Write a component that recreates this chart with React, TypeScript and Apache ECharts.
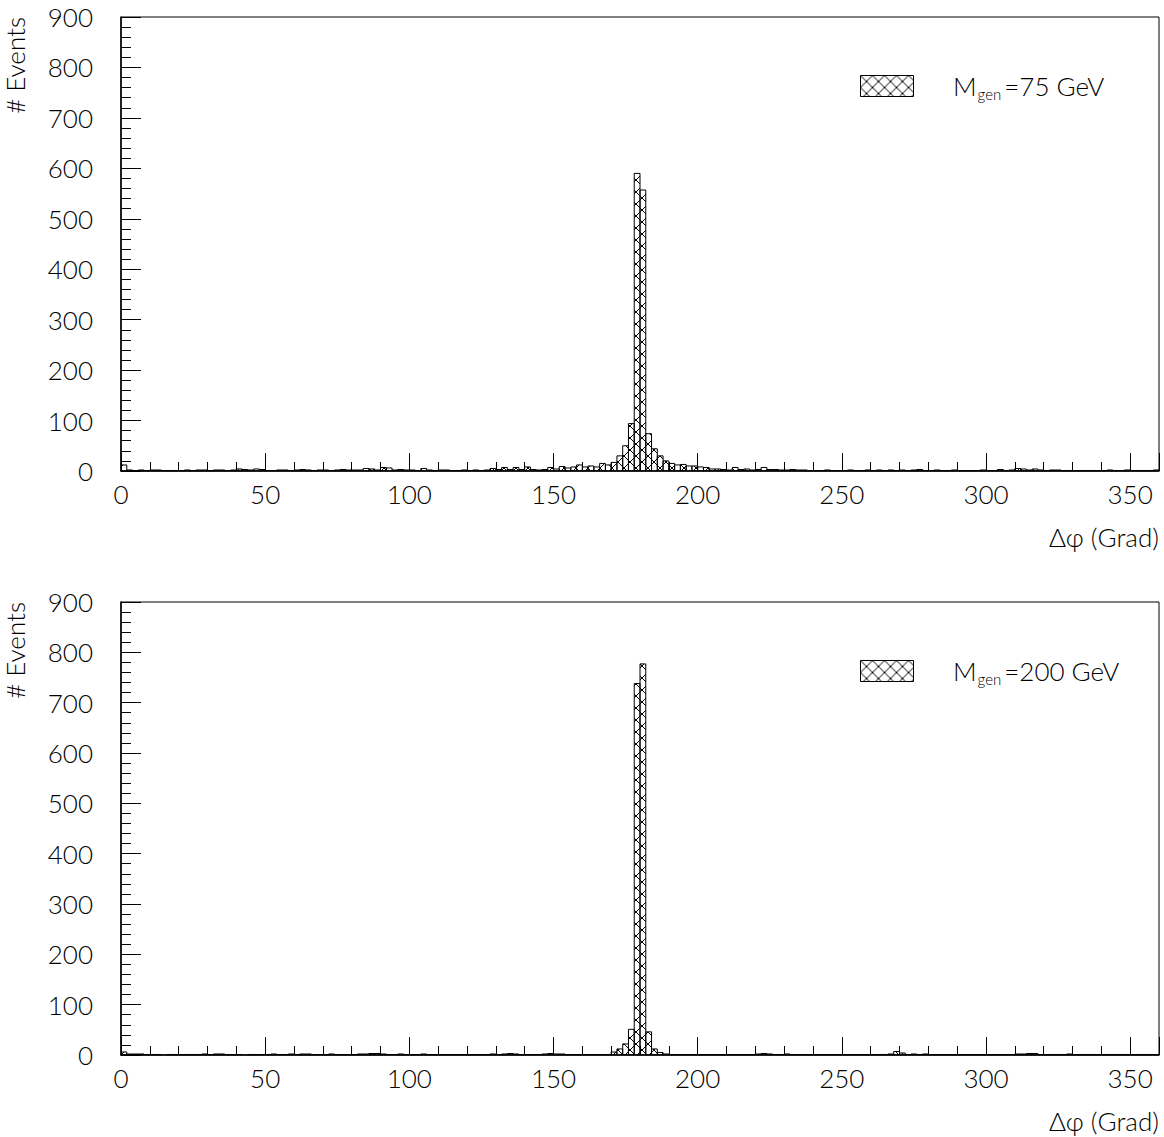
import React, { useEffect, useRef } from "react";
import * as echarts from "echarts";

// Bin width 2 degrees, 180 bins from 0 to 360
const BIN_WIDTH = 2;
const Y_TICKS_MAX = 900;

// M_gen = 75 GeV, counts per 2-degree bin
const COUNTS_75 = [
  12, 2, 1, 2, 1, 2, 2, 1, 1, 1, 1, 2, 1, 2, 2, 1, 2, 2, 1, 2,
  4, 3, 2, 4, 3, 1, 1, 2, 2, 1, 2, 3, 2, 1, 2, 2, 1, 2, 3, 2,
  2, 2, 5, 4, 2, 7, 6, 2, 3, 2, 2, 1, 5, 2, 1, 2, 2, 1, 1, 2,
  1, 2, 1, 2, 5, 3, 7, 3, 7, 3, 8, 3, 2, 3, 7, 4, 9, 6, 8, 12,
  8, 10, 8, 15, 12, 17, 30, 50, 94, 590, 557, 74, 44, 30, 20, 15, 12, 13, 10, 10,
  8, 7, 4, 4, 3, 2, 7, 3, 4, 2, 3, 7, 3, 3, 2, 2, 3, 2, 2, 1,
  1, 1, 2, 1, 1, 1, 2, 1, 1, 2, 1, 2, 1, 2, 1, 2, 1, 2, 3, 1,
  1, 2, 1, 1, 2, 1, 1, 1, 1, 2, 1, 1, 3, 1, 2, 5, 4, 2, 4, 2,
  1, 2, 2, 1, 1, 1, 1, 1, 1, 1, 1, 2, 1, 1, 2, 1, 1, 1, 1, 2,
];

// M_gen = 200 GeV, counts per 2-degree bin
const COUNTS_200 = [
  6, 2, 2, 2, 1, 1, 1, 0, 1, 1, 1, 1, 1, 1, 2, 1, 2, 2, 1, 1,
  1, 0, 1, 1, 1, 1, 2, 1, 1, 2, 1, 2, 2, 1, 1, 1, 2, 1, 1, 1,
  1, 2, 2, 3, 3, 2, 1, 1, 2, 1, 1, 1, 2, 1, 1, 1, 1, 1, 1, 1,
  1, 1, 1, 1, 2, 1, 2, 3, 2, 1, 1, 1, 1, 2, 3, 2, 2, 1, 1, 1,
  1, 1, 1, 1, 1, 6, 12, 22, 51, 738, 777, 46, 12, 5, 2, 1, 1, 1, 1, 1,
  1, 1, 1, 1, 1, 1, 1, 1, 1, 1, 2, 3, 2, 1, 1, 2, 1, 1, 1, 1,
  1, 1, 1, 1, 1, 1, 1, 1, 1, 1, 1, 1, 1, 2, 7, 4, 1, 2, 1, 2,
  1, 1, 1, 1, 1, 1, 1, 1, 1, 1, 1, 1, 1, 1, 1, 2, 2, 3, 3, 1,
  1, 1, 1, 1, 2, 1, 1, 1, 1, 1, 1, 1, 1, 1, 1, 1, 1, 1, 1, 1,
];

const LABEL_75 = ["M", "gen", "=75 GeV"];
const LABEL_200 = ["M", "gen", "=200 GeV"];
const X_TITLE = "\u0394\u03C6 (Grad)";
const Y_TITLE = "# Events";

const FONT = "Lato, 'Liberation Sans', sans-serif";
const WEIGHT = 300;
const TXT = "#000";

const hatchSvg =
  "<svg xmlns='http://www.w3.org/2000/svg' width='12' height='12'>" +
  "<path d='M0 0L12 12M12 0L0 12' stroke='black' stroke-width='1' fill='none'/></svg>";
const hatchUrl = "data:image/svg+xml;charset=utf-8," + encodeURIComponent(hatchSvg);

function toBins(counts: number[]) {
  return counts.map((c, i) => [i * BIN_WIDTH, (i + 1) * BIN_WIDTH, c]);
}

export default function App() {
  const ref = useRef<HTMLDivElement>(null);
  useEffect(() => {
    if (!ref.current) return;
    const chart = echarts.init(ref.current, null, { renderer: "svg" });
    const pattern: any = { image: hatchUrl, repeat: "repeat", imageWidth: 12, imageHeight: 12 };

    const grids = [
      { left: 121, top: 17, width: 1038, height: 454 },
      { left: 121, top: 602, width: 1038, height: 453 },
    ];

    const xAxis = grids.map((_, gi) => ({
      type: "value",
      gridIndex: gi,
      min: 0,
      max: 360,
      interval: 50,
      axisLine: { show: true, onZero: false, lineStyle: { color: "#000", width: 1.5 } },
      axisTick: { show: true, inside: true, length: 18, lineStyle: { color: "#000" } },
      minorTick: { show: true, splitNumber: 5, length: 9, lineStyle: { color: "#000" } },
      splitLine: { show: false },
      axisLabel: {
        margin: 10,
        fontSize: 26,
        fontFamily: FONT,
        fontWeight: WEIGHT,
        color: TXT,
        formatter: (v: number) => (v === 360 ? "" : String(v)),
      },
    }));

    const yAxis = grids.map((_, gi) => ({
      type: "value",
      gridIndex: gi,
      min: 0,
      max: Y_TICKS_MAX,
      interval: 100,
      axisLine: { show: true, lineStyle: { color: "#000", width: 1.5 } },
      axisTick: { show: true, inside: true, length: 20, lineStyle: { color: "#000" } },
      minorTick: { show: true, splitNumber: 5, length: 10, lineStyle: { color: "#000" } },
      splitLine: { show: false },
      axisLabel: {
        margin: 28,
        fontSize: 26,
        fontFamily: FONT,
        fontWeight: WEIGHT,
        color: TXT,
      },
    }));

    const renderItem = (params: any, api: any) => {
      const x0 = api.value(0);
      const x1 = api.value(1);
      const y = api.value(2);
      if (!(y > 0)) return null;
      const p0 = api.coord([x0, y]);
      const p1 = api.coord([x1, 0]);
      return {
        type: "rect",
        shape: { x: p0[0], y: p0[1], width: p1[0] - p0[0], height: p1[1] - p0[1] },
        style: { fill: pattern, stroke: "#000", lineWidth: 1 },
      };
    };

    const series = [COUNTS_75, COUNTS_200].map((counts, gi) => ({
      type: "custom",
      xAxisIndex: gi,
      yAxisIndex: gi,
      renderItem,
      encode: { x: [0, 1], y: 2 },
      data: toBins(counts),
      clip: true,
    }));

    const legendItem = (labels: string[], boxY: number) => [
      {
        type: "rect",
        left: 860,
        top: boxY,
        shape: { width: 53, height: 21 },
        style: { fill: pattern, stroke: "#000", lineWidth: 1 },
      },
      {
        type: "text",
        x: 953,
        y: boxY + 11,
        style: {
          text: `{m|${labels[0]}}{s|${labels[1]}}{m|${labels[2]}}`,
          verticalAlign: "middle",
          fontFamily: FONT,
          fill: TXT,
          rich: {
            m: { fontSize: 26, fontFamily: FONT, fontWeight: WEIGHT, fill: TXT, lineHeight: 30, verticalAlign: "middle" },
            s: { fontSize: 15, fontFamily: FONT, fontWeight: WEIGHT, fill: TXT, lineHeight: 30, verticalAlign: "bottom", padding: [0, 3, 0, 1] },
          },
        },
      },
    ];

    const axisTitles = (plotTop: number, plotBottom: number) => [
      {
        type: "text",
        x: 1159,
        y: plotBottom + 66,
        style: { text: X_TITLE, fontSize: 26, fontFamily: FONT, fontWeight: WEIGHT, fill: TXT, align: "right", verticalAlign: "middle" },
      },
      {
        type: "text",
        x: 15,
        y: plotTop,
        rotation: Math.PI / 2,
        style: { text: Y_TITLE, fontSize: 26, fontFamily: FONT, fontWeight: WEIGHT, fill: TXT, align: "right", verticalAlign: "middle" },
      },
    ];

    chart.setOption({
      animation: false,
      backgroundColor: "#fff",
      grid: grids.map((g) => ({ ...g, show: true, borderColor: "#000", borderWidth: 1, backgroundColor: "transparent" })),
      xAxis,
      yAxis,
      series,
      graphic: [
        ...legendItem(LABEL_75, 75),
        ...legendItem(LABEL_200, 660),
        ...axisTitles(17, 471),
        ...axisTitles(602, 1055),
      ],
    });
    return () => chart.dispose();
  }, []);
  return (
    <div
      ref={ref}
      style={{ position: "absolute", left: 0, top: 0, width: 1164, height: 1137, background: "#fff" }}
    />
  );
}
